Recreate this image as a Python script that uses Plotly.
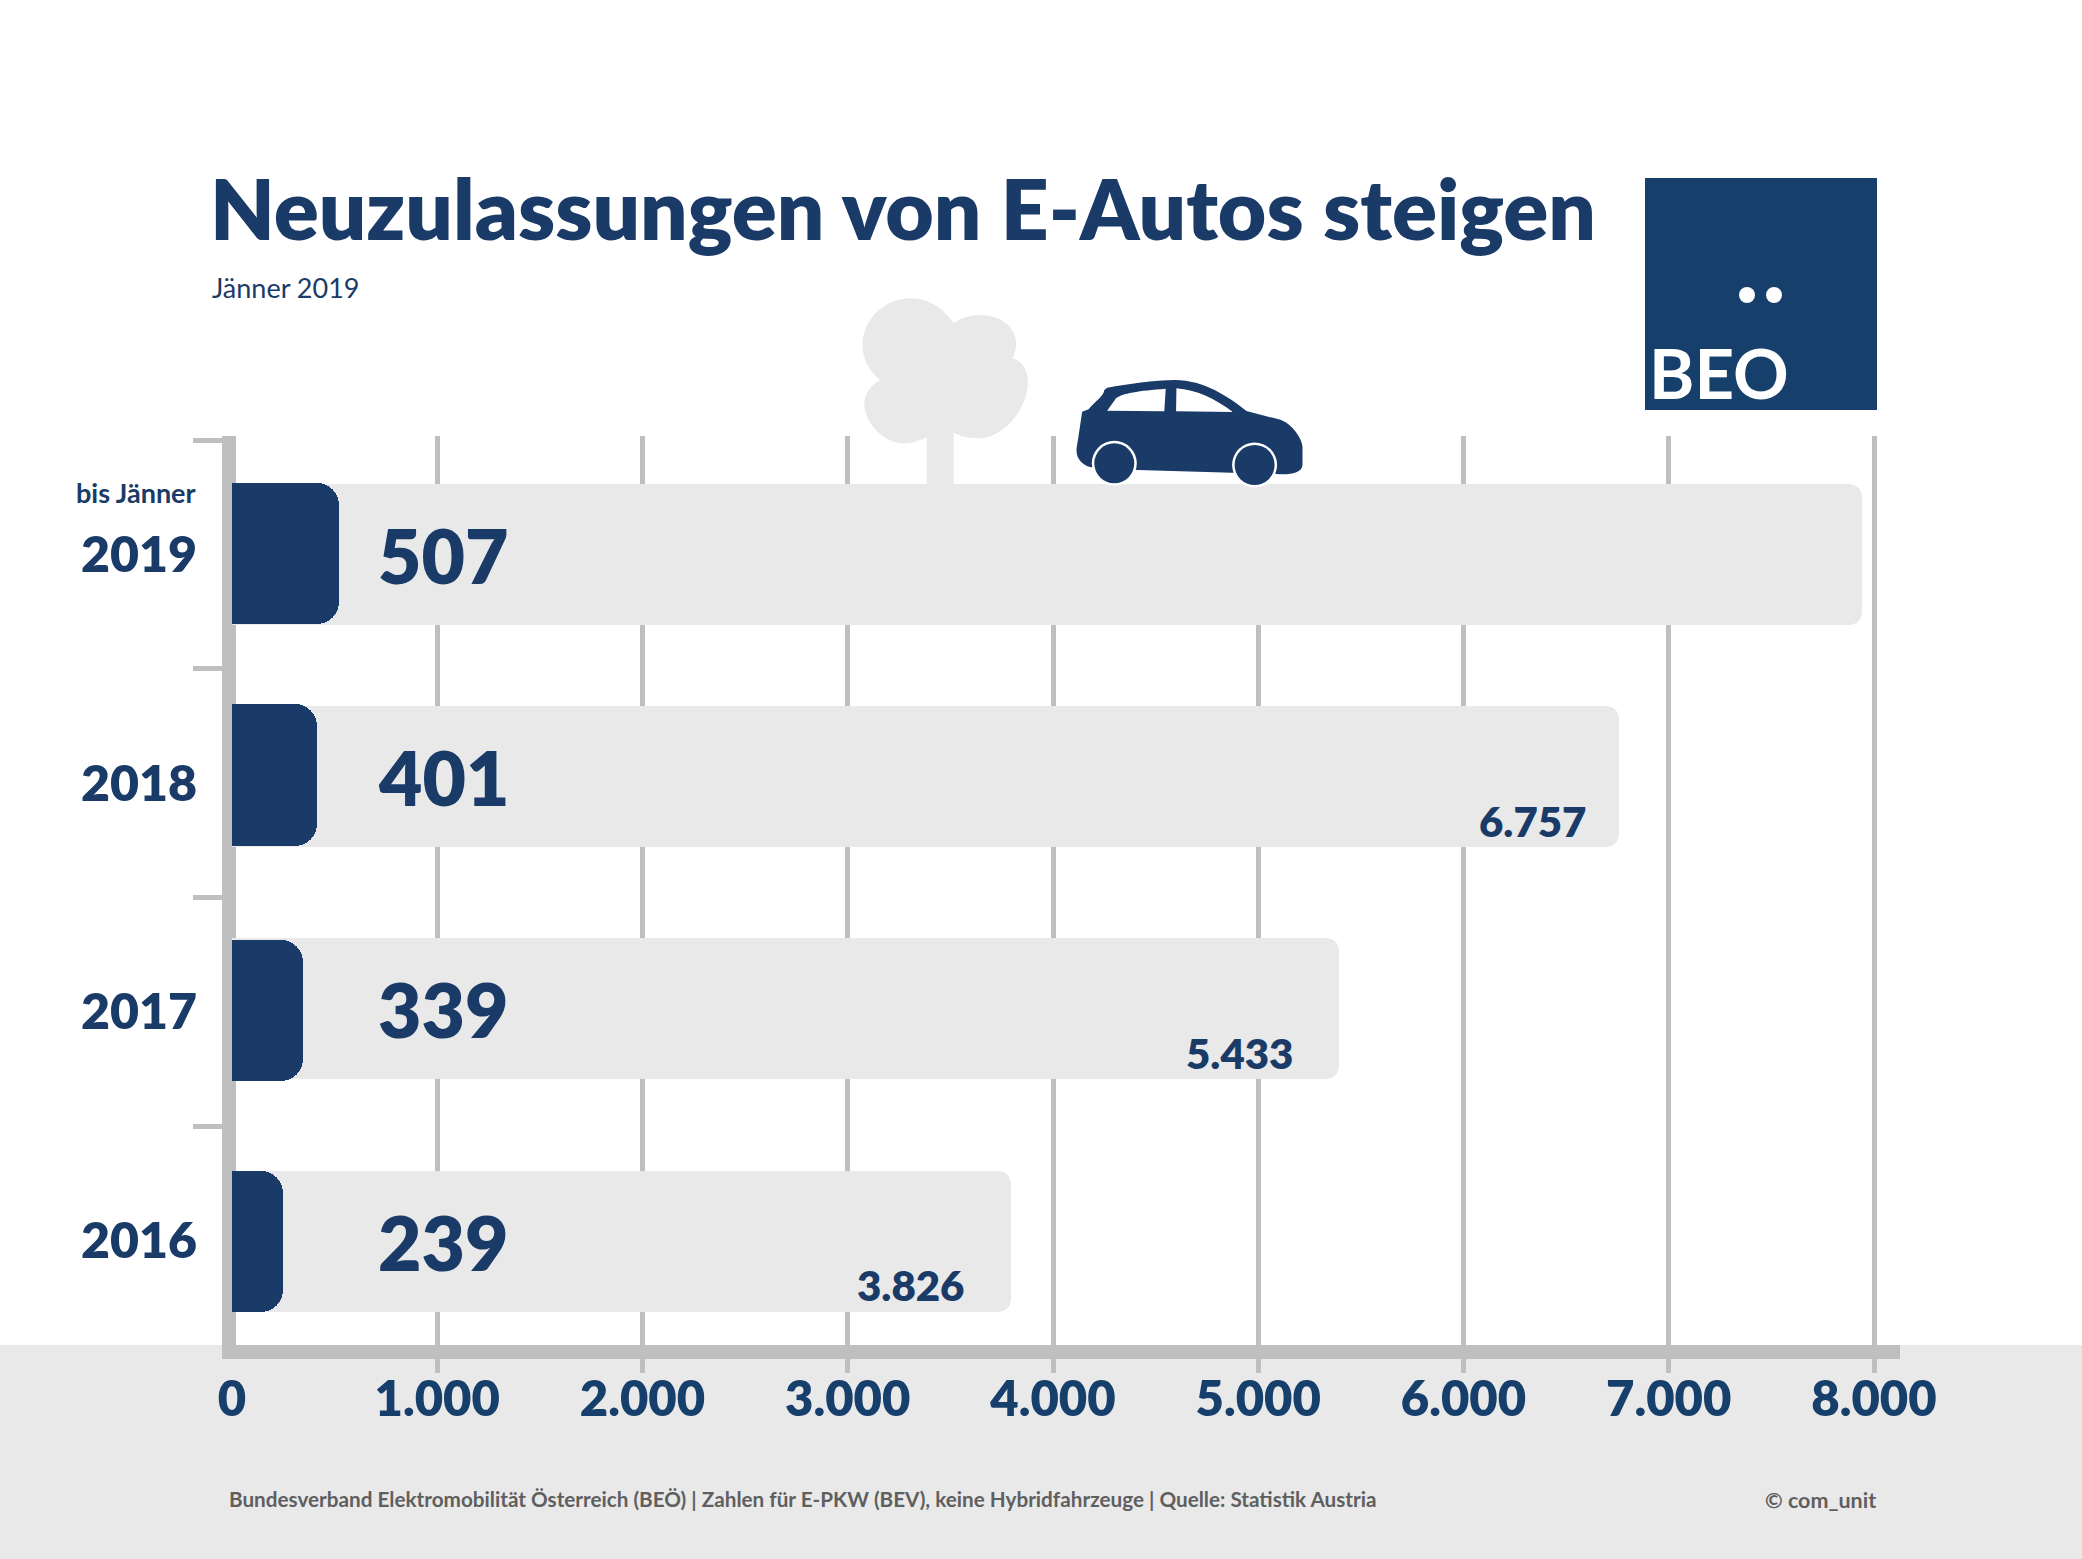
import re
import plotly.graph_objects as go

# ---------- data ----------
years = ["2019", "2018", "2017", "2016"]
registrations = [507, 401, 339, 239]          # printed labels
annual_total_labels = [None, 6757, 5433, 3826]  # printed labels
bar_dark = [521, 412, 346, 249]               # drawn lengths
bar_light = [7940, 6760, 5393, 3795]          # drawn lengths
x_ticks = [0, 1000, 2000, 3000, 4000, 5000, 6000, 7000, 8000]
x_tick_labels = ["0", "1.000", "2.000", "3.000", "4.000", "5.000", "6.000", "7.000", "8.000"]

# ---------- page geometry / styling ----------
W, H = 2082, 1559
NAVY = "#1a3b68"
LOGO = "#163f6c"
GREY = "#e9e9e9"
RULE = "#bfbfbf"
FOOT = "#5f5f5f"
FONT = "Lato"
HEAVY = 800

def fx(v): return v / W
def fy(v): return 1 - v / H

def icon_path(d, ox=800, oy=280, sx=2.8, sy=3):
    """Turn a path traced on an enlarged crop into paper coordinates."""
    out, is_x = [], True
    for tok in re.findall(r"[A-Za-z]|-?\d+\.?\d*", d):
        if tok.isalpha():
            out.append(tok)
            is_x = True
        else:
            v = float(tok)
            if is_x:
                out.append(f"{fx(ox + v / sx):.6f}")
            else:
                out.append(f"{fy(oy + v / sy):.6f}")
            is_x = not is_x
    return " ".join(out)

PX_PER_UNIT = 1642 / 8000
X0 = 232
LEFT, RIGHT = 222, 1900
TOP, BOTTOM = 436, 1357
CAT_TOP, CAT_STEP = 440, 228.75
BAR_H = 141.2

def cat_center(i): return CAT_TOP + CAT_STEP * (i + 0.5)

light_tops = [484, 705.7, 938, 1170.7]
dark_tops = [483, 704.3, 939.5, 1171]
light_offset = [(t - cat_center(i)) / CAT_STEP for i, t in enumerate(light_tops)]
dark_offset = [(t - cat_center(i)) / CAT_STEP for i, t in enumerate(dark_tops)]

fig = go.Figure()
fig.add_bar(y=years, x=bar_light, orientation="h", name="Neuzulassungen gesamt",
            marker=dict(color=GREY, cornerradius=13, line_width=0),
            width=BAR_H / CAT_STEP, offset=light_offset, hoverinfo="skip")
fig.add_bar(y=years, x=bar_dark, orientation="h", name="bis Jänner",
            marker=dict(color=NAVY, cornerradius=22, line_width=0),
            width=BAR_H / CAT_STEP, offset=dark_offset, hoverinfo="skip")

ann = []
def text(x, y, s, size, color=NAVY, weight=700, xanchor="left", **kw):
    ann.append(dict(x=fx(x), y=fy(y), xref="paper", yref="paper", text=s, showarrow=False,
                    xanchor=xanchor, yanchor="middle",
                    font=dict(family=FONT, size=size, color=color, weight=weight), **kw))

text(208, 207, "Neuzulassungen von E-Autos steigen", 83.6, weight=HEAVY)
text(210, 287, "Jänner 2019", 27, weight=400)
text(198, 493, "bis Jänner", 27, xanchor="right")
text(1647, 373, "BEO", 69, color="white")
text(227, 1499, "Bundesverband Elektromobilität Österreich (BEÖ) | Zahlen für E-PKW (BEV), keine Hybridfahrzeuge | Quelle: Statistik Austria",
     20.7, color=FOOT)
text(1878, 1500, "© com_unit", 21.5, color=FOOT, xanchor="right")

big_y = [555, 777, 1009, 1242]
for i, v in enumerate(registrations):
    ann.append(dict(x=(443.5 - X0) / PX_PER_UNIT, y=i, xref="x", yref="y", text=str(v),
                    showarrow=False, xanchor="center", yanchor="middle",
                    yshift=cat_center(i) - big_y[i],
                    font=dict(family=FONT, size=75, color=NAVY, weight=HEAVY)))

small_y = [None, 821, 1053, 1285]
small_right = [None, 1588, 1295, 966]
for i, v in enumerate(annual_total_labels):
    if v is None:
        continue
    ann.append(dict(x=(small_right[i] - X0) / PX_PER_UNIT, y=i, xref="x", yref="y",
                    text=f"{v:,}".replace(",", "."), showarrow=False,
                    xanchor="right", yanchor="middle",
                    yshift=cat_center(i) - small_y[i],
                    font=dict(family=FONT, size=42, color=NAVY, weight=HEAVY)))

tree = ("M 430 130 C 455 110 480 105 505 105 C 560 105 605 140 605 190 C 605 210 600 225 595 235 "
        "C 620 240 640 270 638 310 C 635 390 570 475 500 475 C 470 475 450 468 430 458 L 430 612 "
        "L 355 612 L 355 472 C 335 482 315 490 290 490 C 235 490 180 430 180 370 C 180 340 200 315 225 300 "
        "C 195 275 175 240 175 195 C 175 115 240 55 310 55 C 365 55 405 90 430 130 Z")
car = ("M 860 323 C 920 312 990 300 1050 300 C 1130 300 1200 350 1250 393 L 1340 418 "
       "C 1370 425 1405 470 1407 500 L 1407 555 C 1405 580 1370 585 1335 582 L 1210 578 L 945 570 L 815 562 "
       "C 790 555 770 535 775 500 C 780 470 785 430 790 395 L 808 388 C 825 365 850 350 852 330 Z")
win_rear = "M 860 392 L 1020 394 L 1024 326 C 950 332 900 340 885 355 Z"
win_front = "M 1053 394 L 1212 396 C 1160 355 1110 330 1054 325 Z"

shapes = [
    dict(type="rect", xref="paper", yref="paper", x0=0, x1=1, y0=0, y1=fy(1345),
         fillcolor=GREY, line_width=0, layer="below"),
    dict(type="rect", xref="paper", yref="paper", x0=fx(1645), x1=fx(1877), y0=fy(410), y1=fy(178),
         fillcolor=LOGO, line_width=0, layer="above"),
]
for cx in (1747, 1774):
    shapes.append(dict(type="circle", xref="paper", yref="paper", x0=fx(cx - 8), x1=fx(cx + 8),
                       y0=fy(303), y1=fy(287), fillcolor="white", line_width=0, layer="above"))
for d, col in ((tree, GREY), (car, NAVY), (win_rear, "white"), (win_front, "white")):
    shapes.append(dict(type="path", xref="paper", yref="paper", path=icon_path(d),
                       fillcolor=col, line_width=0, layer="above"))
for cx, cy in ((1114.3, 463.3), (1254.6, 465)):
    for r, col in ((22.5, "white"), (20, NAVY)):
        shapes.append(dict(type="circle", xref="paper", yref="paper", x0=fx(cx - r), x1=fx(cx + r),
                           y0=fy(cy + r), y1=fy(cy - r), fillcolor=col, line_width=0, layer="above"))

fig.update_layout(
    width=W, height=H, autosize=False,
    margin=dict(l=0, r=0, t=0, b=0, pad=0, autoexpand=False),
    paper_bgcolor="white", plot_bgcolor="rgba(0,0,0,0)",
    barmode="overlay", showlegend=False, bargap=0,
    font=dict(family=FONT, color=NAVY),
    annotations=ann, shapes=shapes,
    xaxis=dict(
        domain=[fx(LEFT), fx(RIGHT)], anchor="free", position=fy(1352),
        range=[(LEFT - X0) / PX_PER_UNIT, (RIGHT - X0) / PX_PER_UNIT],
        tickmode="array", tickvals=x_ticks, ticktext=x_tick_labels,
        showgrid=True, gridcolor=RULE, gridwidth=5, zeroline=False,
        showline=True, linecolor=RULE, linewidth=14, layer="below traces",
        ticks="outside", ticklen=14, tickwidth=5, tickcolor="rgba(0,0,0,0)",
        minor=dict(tickmode="array", tickvals=x_ticks[1:], ticks="outside", ticklen=14,
                   tickwidth=5, tickcolor=RULE, showgrid=False),
        tickfont=dict(family=FONT, size=49, color=LOGO, weight=HEAVY),
        ticklabelstandoff=-16,
        fixedrange=True,
    ),
    yaxis=dict(
        domain=[fy(BOTTOM), fy(TOP)], anchor="free", position=fx(229),
        type="category", categoryorder="array", categoryarray=years,
        range=[3.5 + (BOTTOM - 1355) / CAT_STEP, -0.5 - (CAT_TOP - TOP) / CAT_STEP],
        tickson="boundaries", ticks="outside", ticklen=29, tickwidth=5, tickcolor=RULE,
        showgrid=False, zeroline=False,
        showline=True, linecolor=RULE, linewidth=14, layer="below traces",
        tickfont=dict(family=FONT, size=50, color=NAVY, weight=HEAVY),
        ticklabelstandoff=15,
        fixedrange=True,
    ),
)

fig.write_html("out.html", post_script="document.body.style.margin='0';document.body.style.overflow='hidden';",
               config=dict(displayModeBar=False))
